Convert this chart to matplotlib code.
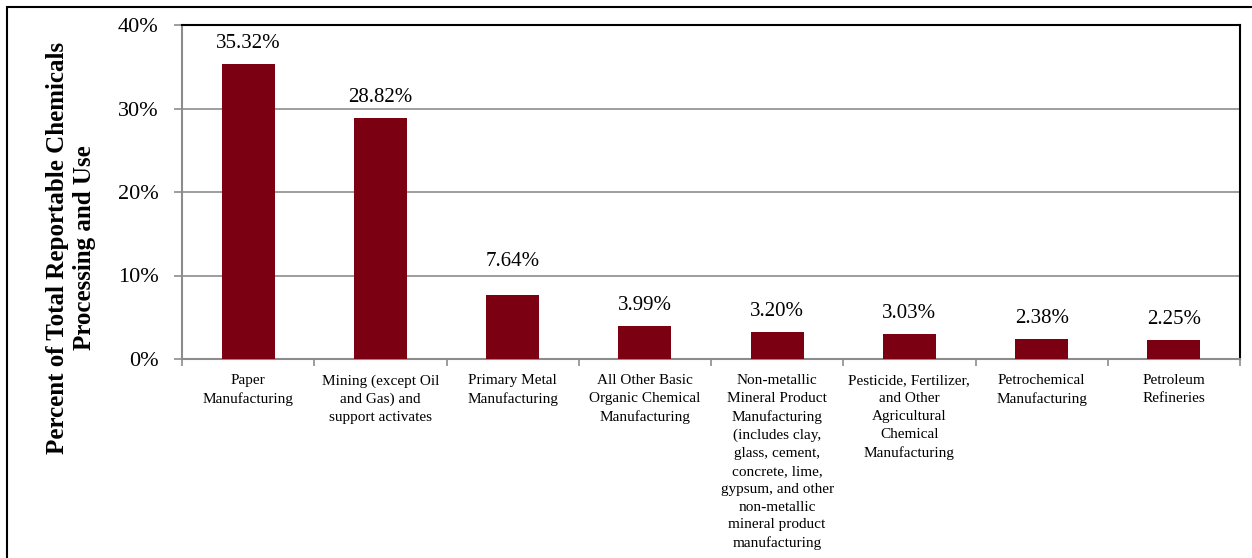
import matplotlib.pyplot as plt
from matplotlib.patches import Rectangle
from matplotlib.ticker import FuncFormatter, MultipleLocator, FixedLocator

plt.rcParams['font.family'] = ['Liberation Serif', 'DejaVu Serif']

# данные
categories = [
    'Paper\nManufacturing',
    'Mining (except Oil\nand Gas) and\nsupport activates',
    'Primary Metal\nManufacturing',
    'All Other Basic\nOrganic Chemical\nManufacturing',
    'Non-metallic\nMineral Product\nManufacturing\n(includes clay,\nglass, cement,\nconcrete, lime,\ngypsum, and other\nnon-metallic\nmineral product\nmanufacturing',
    'Pesticide, Fertilizer,\nand Other\nAgricultural\nChemical\nManufacturing',
    'Petrochemical\nManufacturing',
    'Petroleum\nRefineries',
]
percents = [35.32, 28.82, 7.64, 3.99, 3.20, 3.03, 2.38, 2.25]

W, H = 1252, 558
fig = plt.figure(figsize=(W / 100, H / 100), dpi=100)

# рамка вокруг всего рисунка
fig.patches.append(Rectangle((7 / W, -0.01), 1.0, 1 - 7 / H + 0.01,
                             transform=fig.transFigure, fill=False,
                             edgecolor='black', linewidth=1.5))

ax = fig.add_axes([182 / W, 1 - 359 / H, (1240 - 182) / W, (359 - 25) / H])

x = list(range(len(categories)))
bars = ax.bar(x, percents, width=0.40, color='#7b0011', zorder=3)

ax.set_xlim(-0.5, len(categories) - 0.5)
ax.set_ylim(0, 40)
ax.yaxis.set_major_locator(MultipleLocator(10))
ax.yaxis.set_major_formatter(FuncFormatter(lambda v, p: f'{v:.0f}%'))
ax.grid(axis='y', color='#8c8c8c', linewidth=1.2, zorder=0)

# подписи над столбцами (метка 7.64% в оригинале поднята над линией сетки)
for i, (b, v) in enumerate(zip(bars, percents)):
    off = 3.5 if i == 2 else 1.9
    ax.text(b.get_x() + b.get_width() / 2, v + off, f'{v:.2f}%',
            ha='center', va='baseline', fontsize=15)

# подписи категорий
ax.set_xticks(x)
ax.set_xticklabels(categories, fontsize=11, va='top', linespacing=1.48)
ax.tick_params(axis='x', length=0, pad=11)
ax.xaxis.set_minor_locator(FixedLocator([i - 0.5 for i in range(len(categories) + 1)]))
ax.tick_params(axis='x', which='minor', length=5, color='#8c8c8c', width=1.2)
ax.tick_params(axis='y', labelsize=16, length=6, color='#8c8c8c', width=1.2, pad=11)

for s in ['left', 'bottom']:
    ax.spines[s].set_color('#8c8c8c')
    ax.spines[s].set_linewidth(1.5)
for s in ['top', 'right']:
    ax.spines[s].set_color('black')
    ax.spines[s].set_linewidth(1.5)

fig.text(71 / W, 1 - 248 / H,
         'Percent of Total Reportable Chemicals\nProcessing and Use',
         rotation=90, ha='center', va='center', fontsize=18,
         fontweight='bold', linespacing=1.25, multialignment='center')

fig.savefig('out.png', dpi=100)
